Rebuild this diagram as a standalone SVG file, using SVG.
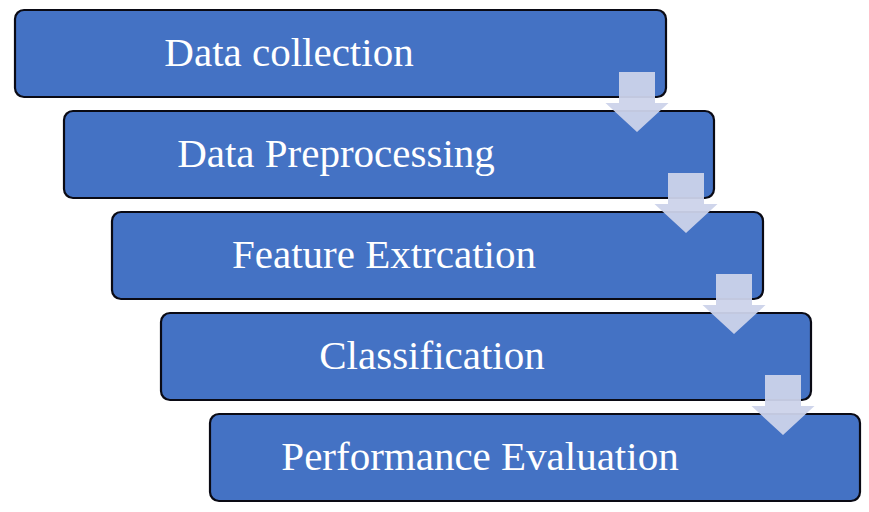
<svg xmlns="http://www.w3.org/2000/svg" width="869" height="512" viewBox="0 0 869 512">
<defs>
<style>
.box{fill:#4472c4;stroke:#0a0a14;stroke-width:2.2}
.lbl{font-family:"Liberation Serif","Times New Roman",serif;font-size:41px;fill:#ffffff;text-anchor:middle}
.arr{fill:#ccd3ea;fill-opacity:0.95}
</style>
</defs>
<rect width="869" height="512" fill="#ffffff"/>
<g id="node1"><rect class="box" x="15" y="10" width="651" height="87" rx="9"/><text class="lbl" x="289" y="66">Data collection</text></g>
<g id="node2"><rect class="box" x="64" y="111" width="650" height="87" rx="9"/><text class="lbl" x="336" y="167">Data Preprocessing</text></g>
<g id="node3"><rect class="box" x="112" y="212" width="651" height="87" rx="9"/><text class="lbl" x="384" y="268">Feature Extrcation</text></g>
<g id="node4"><rect class="box" x="161" y="313" width="650" height="87" rx="9"/><text class="lbl" x="432" y="369">Classification</text></g>
<g id="node5"><rect class="box" x="210" y="414" width="650" height="87" rx="9"/><text class="lbl" x="480" y="470">Performance Evaluation</text></g>
<g id="connectors">
<path class="arr" d="M619 72 H655 V103 H668.5 L637 132 L605.5 103 H619 Z"/>
<path class="arr" d="M668 173 H704 V204 H717.5 L686 233 L654.5 204 H668 Z"/>
<path class="arr" d="M716 274 H752 V305 H765.5 L734 334 L702.5 305 H716 Z"/>
<path class="arr" d="M765 375 H801 V406 H814.5 L783 435 L751.5 406 H765 Z"/>
</g>
</svg>
